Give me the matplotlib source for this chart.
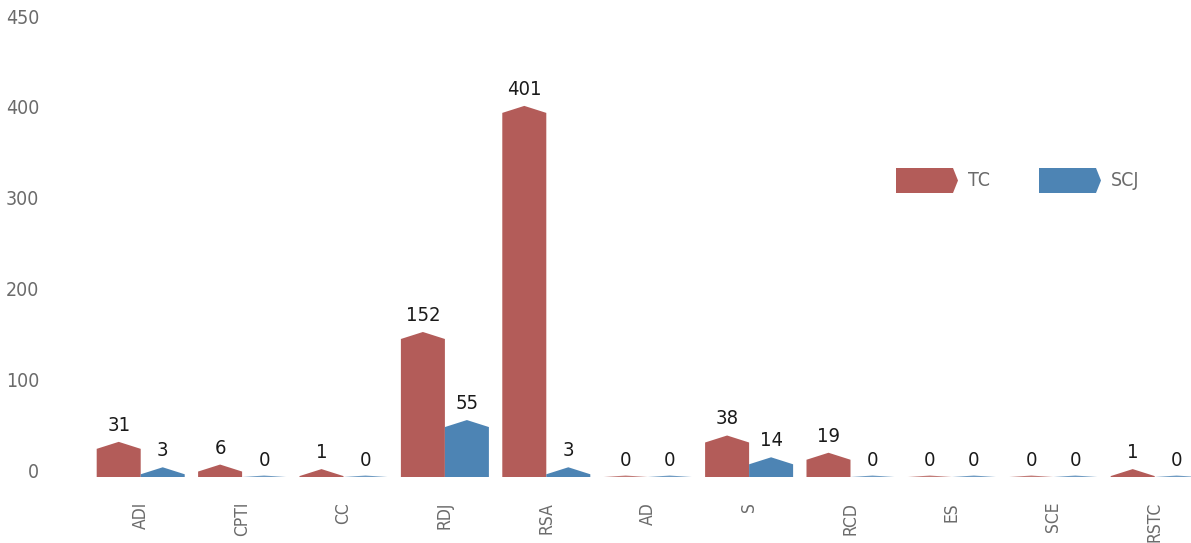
import matplotlib
matplotlib.use("Agg")
import matplotlib.pyplot as plt
from matplotlib.patches import Polygon
import matplotlib.transforms as mtransforms

plt.rcParams['font.family'] = ['DejaVu Sans']
plt.rcParams['font.stretch'] = 'condensed'

categories = ["ADI", "CPTI", "CC", "RDJ", "RSA", "AD", "S", "RCD", "ES", "SCE", "RSTC"]
series_names = ["TC", "SCJ"]
tc_values = [31, 6, 1, 152, 401, 0, 38, 19, 0, 0, 1]
scj_values = [3, 0, 0, 55, 3, 0, 14, 0, 0, 0, 0]
ytick_values = [0, 100, 200, 300, 400, 500]
ytick_labels = ["0", "100", "200", "300", "400", "450"]

colors = ["#B35C59", "#4D84B4"]

W, H = 1191, 543
fig = plt.figure(figsize=(W / 100, H / 100), dpi=100)
left_px, right_px, base_px, top_px = 90, 1191, 477, 10
ax = fig.add_axes([left_px / W, (H - base_px) / H, (right_px - left_px) / W, (base_px - top_px) / H])

spacing_px = 101.4
xmax = -0.5 + (right_px - left_px) / spacing_px
ax.set_xlim(-0.5, xmax)
ymax = (base_px - top_px) / 0.908
ax.set_ylim(0, ymax)

bw = 0.434
peak = 7.0 / 0.908

for si, (vals, col) in enumerate(zip([tc_values, scj_values], colors)):
    for i, v in enumerate(vals):
        x0 = i - bw if si == 0 else i
        x1 = x0 + bw
        xc = (x0 + x1) / 2
        if v > 0:
            pts = [(x0, 0), (x0, v), (xc, v + peak), (x1, v), (x1, 0)]
            ax.add_patch(Polygon(pts, closed=True, facecolor=col, edgecolor='none'))
            top = v + peak
        else:
            pts = [(x0, 0), (xc, 1.6), (x1, 0)]
            ax.add_patch(Polygon(pts, closed=True, facecolor=col, edgecolor='none', alpha=0.8))
            top = 0
        ax.annotate(str(v), (xc, top), xytext=(0, 11.9), textcoords='offset points',
                    ha='center', va='center', fontsize=14.5, color='#1a1a1a')

for s in ax.spines.values():
    s.set_visible(False)
ax.tick_params(axis='both', length=0)
ax.set_yticks(ytick_values)
ax.set_yticklabels(ytick_labels, fontsize=14, color='#6b6b6b')
ax.tick_params(axis='y', pad=51 * 0.72)
for lab in ax.get_yticklabels():
    lab.set_transform(lab.get_transform() + mtransforms.ScaledTranslation(0, 7 / 100, fig.dpi_scale_trans))

ax.set_xticks(range(len(categories)))
ax.set_xticklabels(categories, rotation=90, fontsize=12.5, color='#6b6b6b', va='top', ha='center')
ax.tick_params(axis='x', pad=25 * 0.72)

leg_items = [(896, colors[0], series_names[0]), (1039, colors[1], series_names[1])]
for xl, col, name in leg_items:
    y0, y1 = H - 193, H - 168
    ym = (y0 + y1) / 2
    xr = xl + 62
    pts = [(xl / W, y0 / H), (xr / W - 5 / W, y0 / H), (xr / W, ym / H), (xr / W - 5 / W, y1 / H), (xl / W, y1 / H)]
    fig.add_artist(Polygon(pts, closed=True, transform=fig.transFigure, facecolor=col, edgecolor='none'))
    fig.text((xr + 10) / W, ym / H, name, ha='left', va='center', fontsize=14, color='#6b6b6b')

fig.savefig("out.png", dpi=100)
